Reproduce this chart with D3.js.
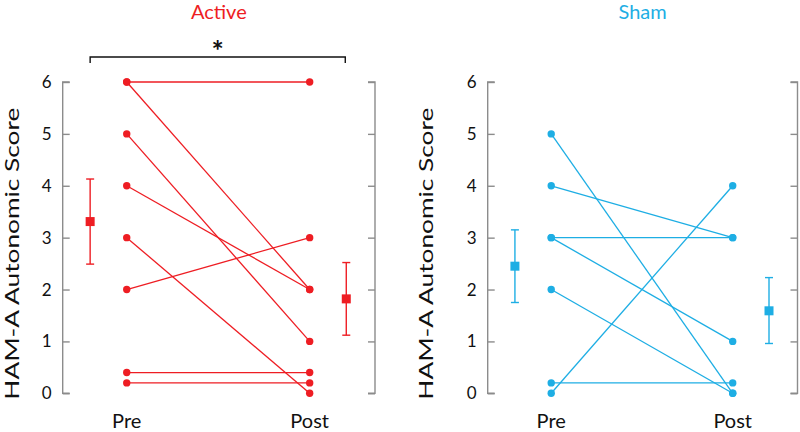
<!DOCTYPE html>
<html>
<head>
<meta charset="utf-8">
<script src="https://cdn.jsdelivr.net/npm/d3@7"></script>
<style>
  body { margin: 0; background: #fff; }
  text { font-family: Lato, "Open Sans", sans-serif; }
</style>
</head>
<body>
<div id="chart"></div>
<script>
// paired scores, pre -> post (the 0.4 / 0.2 values are the jittered zeros as drawn)
const activePre  = [6, 6, 5, 4, 3, 2, 0.4, 0.2];
const activePost = [6, 2, 1, 2, 0, 3, 0.4, 0.2];
const shamPre    = [5, 4, 3, 3, 2, 0.2, 0];
const shamPost   = [0, 3, 3, 1, 0, 0.2, 4];

// group means with error bar ends [mean, low, high]
const activeMeans = [[3.31, 2.49, 4.13], [1.82, 1.12, 2.52]];
const shamMeans   = [[2.45, 1.75, 3.15], [1.59, 0.96, 2.23]];

const yTicks = [0, 1, 2, 3, 4, 5, 6];
const timeLabels = ['Pre', 'Post'];

const W = 800, H = 432;

const svg = d3.select('#chart').append('svg')
    .attr('width', W)
    .attr('height', H);

const y = d3.scaleLinear()
    .domain([0, 6])
    .range([393.3, 82]);

function drawPanel(opts) {
  const x = d3.scaleLinear()
      .domain([-0.35, 1.357])
      .range([opts.x0, opts.x1]);

  const g = svg.append('g');
  const col = opts.colour;

  // left axis, ticks pointing in
  g.append('g')
      .attr('transform', `translate(${opts.x0},0)`)
      .call(d3.axisRight(y).tickValues(yTicks).tickSize(7).tickFormat(''))
      .call(a => a.select('.domain').attr('d', `M7,${y(0)}H0V${y(6)}H7`));

  // right axis, no labels
  g.append('g')
      .attr('transform', `translate(${opts.x1},0)`)
      .call(d3.axisLeft(y).tickValues(yTicks).tickSize(7).tickFormat(''))
      .call(a => a.select('.domain').attr('d', `M-7,${y(0)}H0V${y(6)}H-7`));

  g.selectAll('.domain, .tick line')
      .attr('stroke', '#8c8c8c')
      .attr('stroke-width', 1.4);

  // tick labels
  g.selectAll('.ylab')
      .data(yTicks)
      .enter().append('text')
        .attr('x', opts.x0 - 16)
        .attr('y', d => y(d) + 6)
        .attr('text-anchor', 'middle')
        .attr('font-size', 17)
        .attr('fill', '#111')
        .text(d => d);

  // y axis title
  g.append('text')
      .attr('transform', `translate(${opts.titleX},${y(3) + 16}) rotate(-90)`)
      .attr('text-anchor', 'middle')
      .attr('font-size', 19)
      .attr('fill', '#111')
      .attr('textLength', 292)
      .attr('lengthAdjust', 'spacingAndGlyphs')
      .text('HAM-A Autonomic Score');

  // panel title
  g.append('text')
      .attr('x', (opts.x0 + opts.x1) / 2)
      .attr('y', 19)
      .attr('text-anchor', 'middle')
      .attr('font-size', 20)
      .attr('fill', col)
      .text(opts.title);

  // Pre / Post labels
  g.selectAll('.xlab')
      .data(timeLabels)
      .enter().append('text')
        .attr('x', (d, i) => x(i))
        .attr('y', 428)
        .attr('text-anchor', 'middle')
        .attr('font-size', 20)
        .attr('fill', '#111')
        .text(d => d);

  // subject lines
  const pairs = opts.pre.map((v, i) => [v, opts.post[i]]);
  g.selectAll('.pair')
      .data(pairs)
      .enter().append('line')
        .attr('x1', x(0))
        .attr('x2', x(1))
        .attr('y1', d => y(d[0]))
        .attr('y2', d => y(d[1]))
        .attr('stroke', col)
        .attr('stroke-width', 1.3);

  const dots = opts.pre.map(v => [0, v]).concat(opts.post.map(v => [1, v]));
  g.selectAll('.dot')
      .data(dots)
      .enter().append('circle')
        .attr('cx', d => x(d[0]))
        .attr('cy', d => y(d[1]))
        .attr('r', 3.7)
        .attr('fill', col);

  // means with error bars
  const meanX = [-0.2, 1.2];
  opts.means.forEach(function(m, i) {
    const cx = x(meanX[i]);
    g.append('line')
        .attr('x1', cx).attr('x2', cx)
        .attr('y1', y(m[1])).attr('y2', y(m[2]))
        .attr('stroke', col).attr('stroke-width', 1.4);
    [m[1], m[2]].forEach(function(v) {
      g.append('line')
          .attr('x1', cx - 4).attr('x2', cx + 4)
          .attr('y1', y(v)).attr('y2', y(v))
          .attr('stroke', col).attr('stroke-width', 1.4);
    });
    g.append('rect')
        .attr('x', cx - 4.5)
        .attr('y', y(m[0]) - 4.5)
        .attr('width', 9)
        .attr('height', 9)
        .attr('fill', col);
  });

  if (opts.sig) {
    const bx0 = x(meanX[0]), bx1 = x(meanX[1]) - 1;
    g.append('path')
        .attr('d', `M${bx0},63V57H${bx1}V63`)
        .attr('fill', 'none')
        .attr('stroke', '#111')
        .attr('stroke-width', 1.4);
    g.append('text')
        .attr('x', (bx0 + bx1) / 2)
        .attr('y', 61)
        .attr('text-anchor', 'middle')
        .attr('font-size', 29)
        .attr('font-weight', 'bold')
        .attr('fill', '#111')
        .text('*');
  }
}

drawPanel({
  x0: 62.7, x1: 375, titleX: 18.5,
  title: 'Active', colour: '#ee1d23',
  pre: activePre, post: activePost, means: activeMeans, sig: true
});

drawPanel({
  x0: 487.7, x1: 797.5, titleX: 433,
  title: 'Sham', colour: '#1eaee4',
  pre: shamPre, post: shamPost, means: shamMeans, sig: false
});
</script>
</body>
</html>
